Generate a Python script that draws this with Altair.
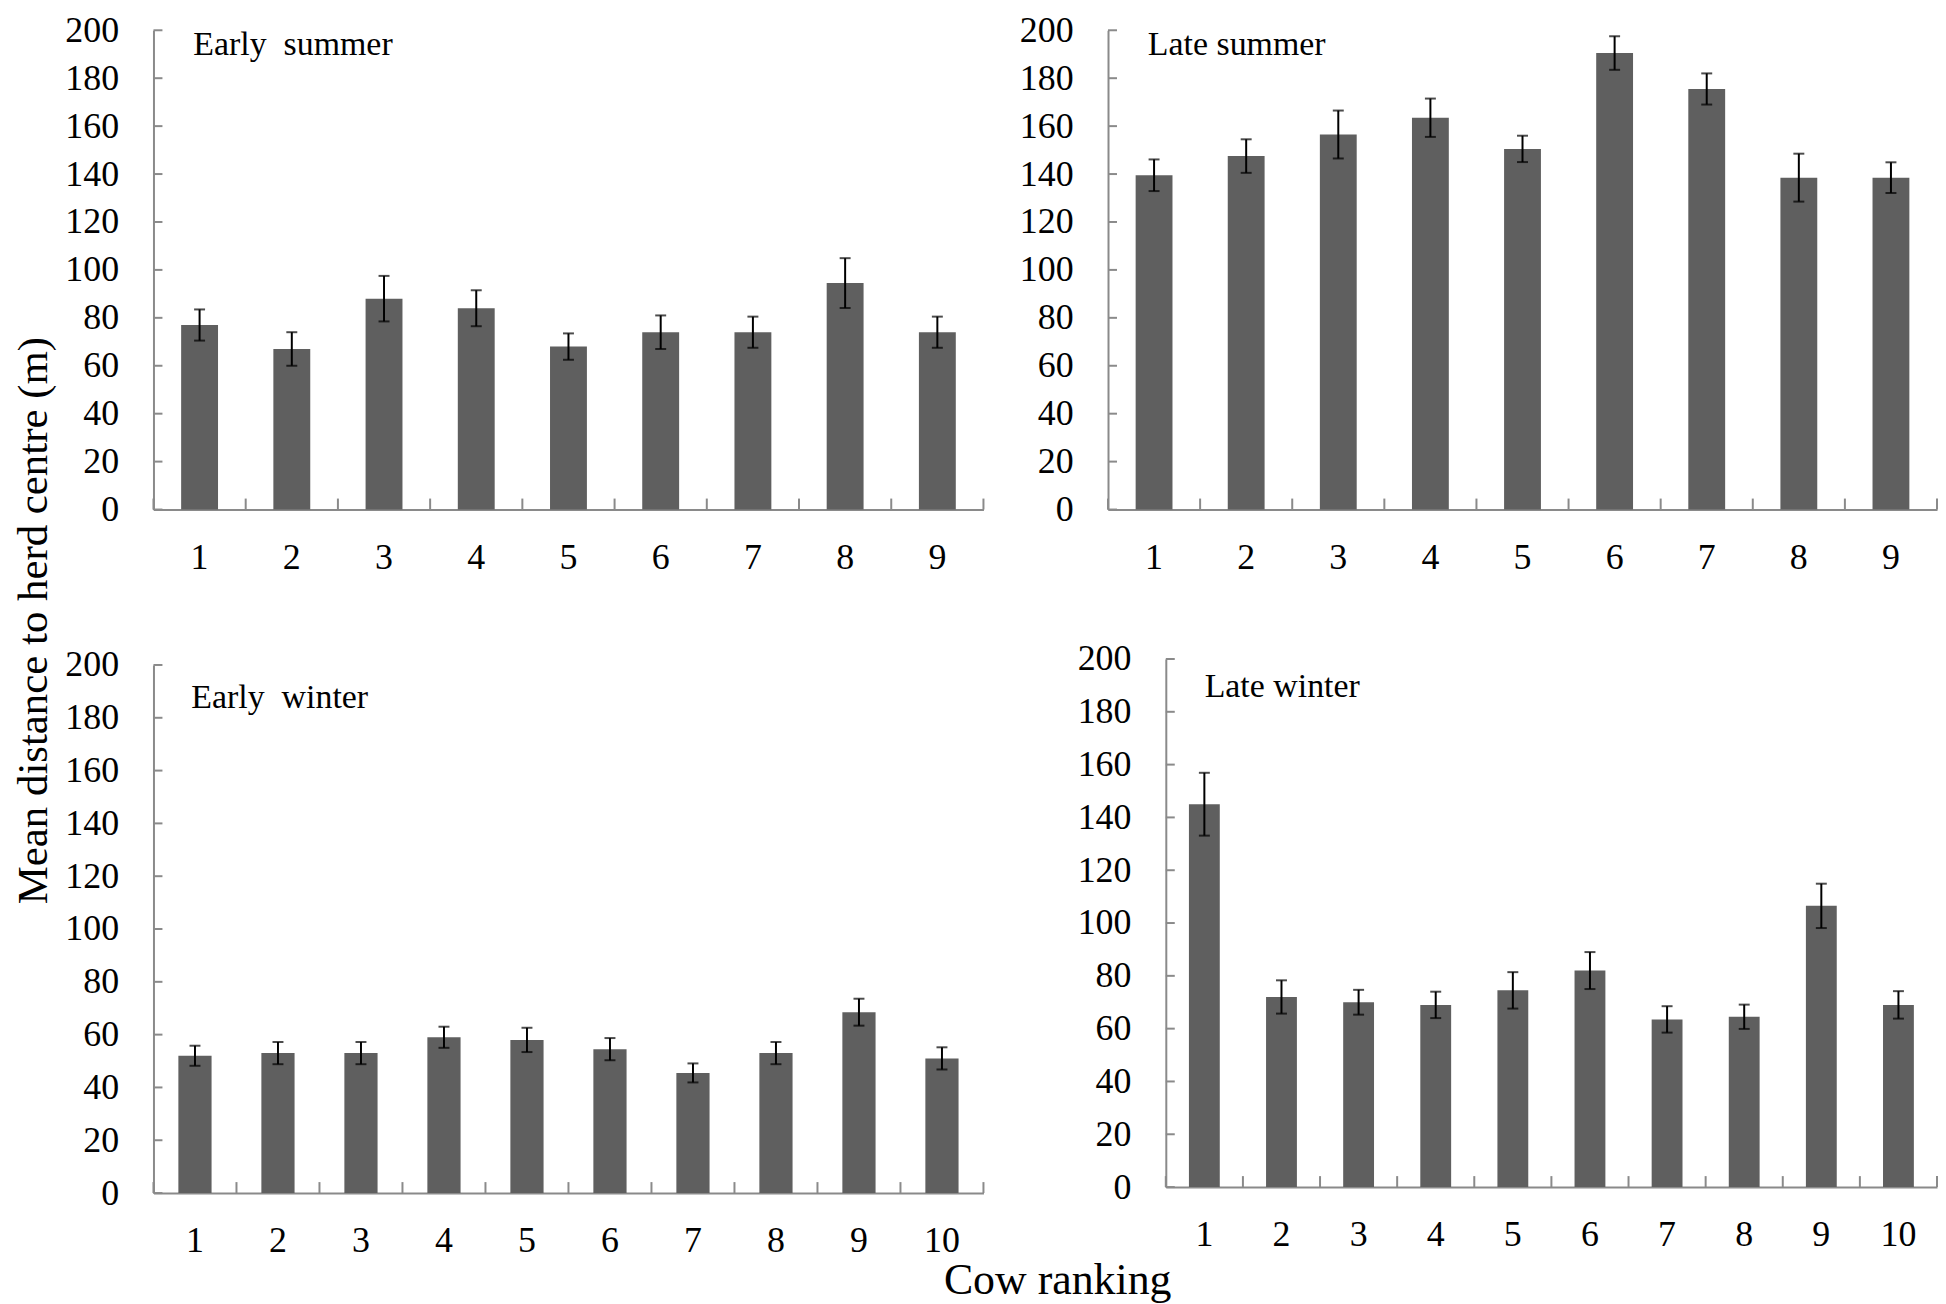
import altair as alt
import pandas as pd

FONT = "Liberation Serif"
AX = "#8a8a8a"
BAR = "#5f5f5f"

# ---- data ----
cows9 = [1, 2, 3, 4, 5, 6, 7, 8, 9]
cows10 = [1, 2, 3, 4, 5, 6, 7, 8, 9, 10]

early_summer_mean = [77, 67, 88, 84, 68, 74, 74, 94.5, 74]
early_summer_se = [6.5, 7, 9.5, 7.5, 5.5, 7, 6.5, 10.4, 6.5]

late_summer_mean = [139.5, 147.5, 156.5, 163.5, 150.5, 190.5, 175.5, 138.5, 138.5]
late_summer_se = [6.6, 7, 10, 8, 5.5, 7, 6.5, 10, 6.4]

early_winter_mean = [52, 53, 53, 59, 58, 54.5, 45.5, 53, 68.5, 51]
early_winter_se = [3.8, 4.2, 4.2, 4, 4.6, 4.2, 3.6, 4.2, 5.1, 4.2]

late_winter_mean = [145, 72, 70, 69, 74.5, 82, 63.5, 64.5, 106.5, 69]
late_winter_se = [11.9, 6.3, 4.7, 5, 6.9, 7, 5, 4.6, 8.4, 5.2]

y_ticks = [0, 20, 40, 60, 80, 100, 120, 140, 160, 180, 200]

panel_titles = ["Early\u00a0 summer", "Late summer", "Early\u00a0 winter", "Late winter"]
y_title = "Mean distance to herd centre (m)"
x_title = "Cow ranking"


def panel(title, cows, means, ses, width, height, x0=0, y0=0,
          tx=40, ty=25, ytitle=False, xtitle=False):
    df = pd.DataFrame({
        "cow": cows,
        "mean": means,
        "lo": [m - s for m, s in zip(means, ses)],
        "hi": [m + s for m, s in zip(means, ses)],
    })
    x_range = [x0, width]
    y_range = [height, y0]

    xaxis_kw = dict(labelAngle=0, labelPadding=59, labelBaseline="alphabetic",
                    labelFont=FONT, labelFontSize=36, labelColor="black")
    if xtitle:
        xaxis_kw.update(title=x_title, titleX=907, titleY=101, titleFont=FONT,
                        titleFontSize=44, titleFontWeight="normal",
                        titleBaseline="alphabetic", titleAlign="center",
                        titleColor="black")
    else:
        xaxis_kw.update(title=None)

    yaxis_kw = dict(values=y_ticks, labelPadding=35, labelFont=FONT,
                    labelFontSize=36, labelColor="black")
    if x0:
        yaxis_kw.update(offset=-x0)
    if ytitle:
        yaxis_kw.update(title=y_title, titleX=-107, titleY=592, titleAngle=270,
                        titleFont=FONT, titleFontSize=43, titleFontWeight="normal",
                        titleBaseline="alphabetic", titleAlign="center",
                        titleColor="black")
    else:
        yaxis_kw.update(title=None)

    xs = alt.Scale(paddingInner=0.6, paddingOuter=0.3, range=x_range)
    ys = alt.Scale(domain=[0, 200], nice=False, zero=True, range=y_range)

    X = alt.X("cow:O", scale=xs, axis=alt.Axis(**xaxis_kw))
    base = alt.Chart(df)

    bars = base.mark_bar(color=BAR).encode(
        x=X, y=alt.Y("mean:Q", scale=ys, axis=alt.Axis(**yaxis_kw)))
    err = base.mark_rule(color="black", strokeWidth=2).encode(
        x=X, y=alt.Y("lo:Q", scale=ys), y2="hi:Q")
    cap_lo = base.mark_tick(color="black", thickness=2, size=11).encode(
        x=X, y=alt.Y("lo:Q", scale=ys))
    cap_hi = base.mark_tick(color="black", thickness=2, size=11).encode(
        x=X, y=alt.Y("hi:Q", scale=ys))

    yt = alt.Chart(pd.DataFrame({"v": y_ticks})).mark_rule(
        color=AX, strokeWidth=2).encode(
        y=alt.Y("v:Q", scale=ys), x=alt.value(x0), x2=alt.value(x0 + 9))

    label = alt.Chart(pd.DataFrame({"t": [title]})).mark_text(
        font=FONT, fontSize=34, color="black", align="left",
        baseline="alphabetic").encode(
        text="t:N", x=alt.value(x0 + tx), y=alt.value(ty))

    inner = alt.layer(bars, err, cap_lo, cap_hi, yt, label)

    bounds = [c - 0.5 for c in cows] + [cows[-1] + 0.5]
    xt = alt.Chart(pd.DataFrame({"b": bounds})).mark_rule(
        color=AX, strokeWidth=2).encode(
        x=alt.X("b:Q", scale=alt.Scale(domain=[cows[0] - 0.5, cows[-1] + 0.5],
                                       nice=False, zero=False, range=x_range),
                axis=None),
        y=alt.value(height), y2=alt.value(height - 11))

    return alt.layer(inner, xt).resolve_scale(x="independent").properties(
        width=width, height=height)


p1 = panel(panel_titles[0], cows9, early_summer_mean, early_summer_se,
           833, 481, tx=40, ty=25, ytitle=True)
p2 = panel(panel_titles[1], cows9, late_summer_mean, late_summer_se,
           832, 481, tx=40, ty=25)
p3 = panel(panel_titles[2], cows10, early_winter_mean, early_winter_se,
           833, 538, y0=8, tx=38, ty=51, xtitle=True)
p4 = panel(panel_titles[3], cows10, late_winter_mean, late_winter_se,
           832, 532, x0=58, y0=2, tx=39, ty=40)

chart = alt.concat(p1, p2, p3, p4, columns=2,
                   spacing={"row": 148, "column": 125},
                   bounds="flush").properties(
    padding={"left": 5, "top": 2, "right": 0, "bottom": 0}
).configure(font=FONT).configure_view(stroke=None).configure_axis(
    grid=False, ticks=False, tickSize=0, domainColor=AX, domainWidth=2,
    labelFont=FONT, titleFont=FONT
).configure_text(font=FONT)

chart.save("out.html", embed_options={"renderer": "svg", "actions": False})
